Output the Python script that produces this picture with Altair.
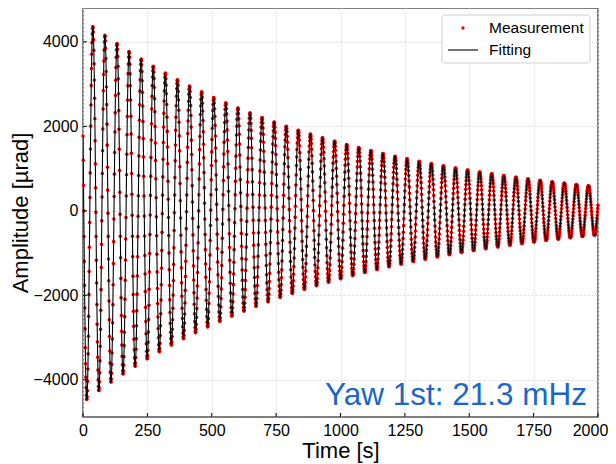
import altair as alt
import numpy as np
import pandas as pd

# ---- values --------------------------------------------------------------
# Damped-oscillation fit parameters (Yaw 1st mode)
AMP0_URAD = 4540.0      # initial amplitude
TAU_S = 965.0           # decay time
FREQ_HZ = 0.0213        # 21.3 mHz
PHASE_RAD = 1.17
T_END_S = 2000.0
MEAS_STEP_S = 1.0       # measurement sampling interval
FIT_STEP_S = 0.5        # fit curve resolution

x_ticks = [0, 250, 500, 750, 1000, 1250, 1500, 1750, 2000]
y_ticks = [-4000, -2000, 0, 2000, 4000]
x_domain = [0, 2000]
y_domain = [-4880, 4800]
legend_labels = ["Measurement", "Fitting"]
annotation = "Yaw 1st: 21.3 mHz"

# ---- build tables ---------------------------------------------------------
def model(t):
    return AMP0_URAD * np.exp(-t / TAU_S) * np.cos(2 * np.pi * FREQ_HZ * t + PHASE_RAD)

t_meas = np.arange(0.0, T_END_S + MEAS_STEP_S / 2, MEAS_STEP_S)
t_fit = np.arange(0.0, T_END_S + FIT_STEP_S / 2, FIT_STEP_S)
meas = pd.DataFrame({"t": t_meas, "a": np.round(model(t_meas), 1)})
fit = pd.DataFrame({"t": t_fit, "a": np.round(model(t_fit), 1)})

W, H = 515, 409
FONT = "Liberation Sans"

xs = alt.Scale(domain=x_domain, nice=False, zero=False)
ys = alt.Scale(domain=y_domain, nice=False, zero=False)

x_axis = alt.Axis(values=x_ticks, title="Time [s]", labelFontSize=16,
                  titleFontSize=22, titleFontWeight="normal", labelPadding=5,
                  titlePadding=2, format="d", labelFlush=False,
                  labelOffset={"condition": {"test": "datum.value == 2000", "value": -8},
                               "value": 0})
y_axis = alt.Axis(values=y_ticks, title="Amplitude [µrad]", labelFontSize=16,
                  titleFontSize=22, titleFontWeight="normal", labelPadding=5,
                  titlePadding=1, format="d", labelFlush=False)

points = alt.Chart(meas).mark_circle(size=13, color="#ee0000", opacity=1).encode(
    x=alt.X("t:Q", scale=xs, axis=x_axis),
    y=alt.Y("a:Q", scale=ys, axis=y_axis),
)
line = alt.Chart(fit).mark_line(color="black", strokeWidth=1.1, clip=True).encode(
    x=alt.X("t:Q", scale=xs, axis=x_axis),
    y=alt.Y("a:Q", scale=ys, axis=y_axis),
)

# inward tick marks
xt = pd.DataFrame({"t": x_ticks})
yt = pd.DataFrame({"a": y_ticks})
xtick_marks = alt.Chart(xt).mark_rule(color="black", strokeWidth=1).encode(
    x=alt.X("t:Q", scale=xs, axis=x_axis),
    y=alt.value(H), y2=alt.value(H - 4),
)
ytick_marks = alt.Chart(yt).mark_rule(color="black", strokeWidth=1).encode(
    y=alt.Y("a:Q", scale=ys, axis=y_axis),
    x=alt.value(0), x2=alt.value(4),
)

# legend (drawn by hand, top right)
one = pd.DataFrame({"k": [0]})
leg_box = alt.Chart(one).mark_rect(fill="white", stroke="#cccccc", strokeWidth=1,
                                   cornerRadius=3, opacity=0.9).encode(
    x=alt.value(359), x2=alt.value(507), y=alt.value(7), y2=alt.value(55),
)
leg_dot = alt.Chart(one).mark_circle(size=11, color="#ee0000", opacity=1).encode(
    x=alt.value(380), y=alt.value(20),
)
leg_line = alt.Chart(one).mark_rule(color="black", strokeWidth=1.1).encode(
    x=alt.value(365), x2=alt.value(395), y=alt.value(42),
)
leg_df = pd.DataFrame({"label": legend_labels, "row": [20, 42]})
leg_text = alt.Chart(leg_df).mark_text(align="left", baseline="middle", fontSize=15.5,
                                       font=FONT, color="black").encode(
    x=alt.value(406), y=alt.Y("row:Q", scale=None), text="label:N",
)

ann = alt.Chart(pd.DataFrame({"txt": [annotation]})).mark_text(
    align="right", baseline="alphabetic", fontSize=31.5, font=FONT,
    color="#1a67c5").encode(
    x=alt.value(504), y=alt.value(397), text="txt:N",
)

chart = alt.layer(points, line, xtick_marks, ytick_marks, leg_box, leg_dot,
                  leg_line, leg_text, ann).properties(
    width=W, height=H,
    autosize=alt.AutoSizeParams(type="none"),
    padding={"left": 75, "top": 0, "right": 10, "bottom": 47},
).configure_view(
    stroke="#555555", strokeWidth=1.5,
).configure_axis(
    domain=False, ticks=False, grid=True, gridColor="#dcdcdc", gridDash=[2, 2],
    gridWidth=1, labelFont=FONT, titleFont=FONT, labelColor="black",
    titleColor="black",
)

chart.save("out.html", embed_options={"renderer": "svg", "actions": False})
